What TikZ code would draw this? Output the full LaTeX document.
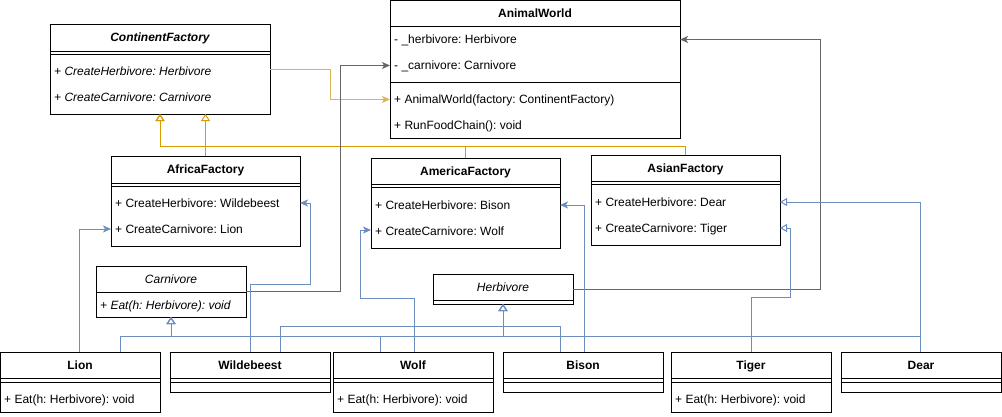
\documentclass[tikz,border=0pt]{standalone}
\usepackage{fontspec}
\setmainfont{Liberation Sans}
\usetikzlibrary{arrows.meta}
\definecolor{genc}{HTML}{D79B00}
\definecolor{assocc}{HTML}{D6B656}
\definecolor{grayc}{HTML}{666666}
\definecolor{bluec}{HTML}{6C8EBF}
\frenchspacing
\begin{document}
\begin{tikzpicture}[x=1pt,y=-1pt,
  umlbox/.style 2 args={draw=black,line width=1pt,fill=white,inner sep=0pt,outer sep=0pt,anchor=north west,minimum width=#1pt,minimum height=#2pt},
  sep/.style={line width=1pt,draw=black},
  ttl/.style={font=\fontsize{12}{14}\selectfont\bfseries,inner sep=0pt,text height=8.6pt,text depth=0pt},
  ittl/.style={font=\fontsize{12}{14}\selectfont\bfseries\itshape,inner sep=0pt,text height=8.6pt,text depth=0pt},
  ipl/.style={font=\fontsize{12}{14}\selectfont\itshape,inner sep=0pt,text height=8.6pt,text depth=0pt},
  mem/.style={font=\fontsize{12}{14}\selectfont,inner sep=0pt,anchor=west,text height=8.6pt,text depth=0pt},
  imem/.style={font=\fontsize{12}{14}\selectfont\itshape,inner sep=0pt,anchor=west,text height=8.6pt,text depth=0pt},
  gen/.style={draw=genc,line width=1pt,-{Triangle[open,length=7pt,width=9pt]}},
  assoc/.style={draw=assocc,line width=1pt,-{Stealth[length=8pt,width=7pt,inset=2pt]}},
  dep/.style={draw=grayc,line width=1pt,-{Stealth[length=8pt,width=7pt,inset=2pt]}},
  bgen/.style={draw=bluec,line width=1pt,-{Triangle[open,length=7pt,width=9pt]}},
  bdep/.style={draw=bluec,line width=1pt,-{Stealth[length=8pt,width=7pt,inset=2pt]}},
  bodep/.style={draw=bluec,line width=1pt,-{Triangle[open,length=7pt,width=8pt]}},
]
\useasboundingbox (0,0) rectangle (1002,416);

% ---- ContinentFactory
\node[umlbox={220}{90}] (cf) at (50,24) {};
\draw[sep] (50,51) -- (270,51);
\draw[sep] (50,54) -- (270,54);
\node[ittl] (cft) at (160,37.5) {ContinentFactory};
\node[imem] (cf1) at (54,71) {+ CreateHerbivore: Herbivore};
\node[imem] (cf2) at (54,97) {+ CreateCarnivore: Carnivore};

% ---- AnimalWorld
\node[umlbox={290}{137.5}] (aw) at (390,0.5) {};
\draw[sep] (390,26) -- (680,26);
\draw[sep] (390,82) -- (680,82);
\node[ttl] (awt) at (535,13) {AnimalWorld};
\node[mem] (aw1) at (394,39) {- \_herbivore: Herbivore};
\node[mem] (aw2) at (394,65) {- \_carnivore: Carnivore};
\node[mem] (aw3) at (394,99) {+ AnimalWorld(factory: ContinentFactory)};
\node[mem] (aw4) at (394,125) {+ RunFoodChain(): void};

% ---- AfricaFactory
\node[umlbox={189}{90}] (africa) at (111,156) {};
\draw[sep] (111,183) -- (300,183);
\draw[sep] (111,186) -- (300,186);
\node[ttl] (aft) at (205.5,169.5) {AfricaFactory};
\node[mem] (af1) at (115,203) {+ CreateHerbivore: Wildebeest};
\node[mem] (af2) at (115,229) {+ CreateCarnivore: Lion};

% ---- AmericaFactory
\node[umlbox={189}{90}] (america) at (371,158) {};
\draw[sep] (371,184) -- (560,184);
\draw[sep] (371,187) -- (560,187);
\node[ttl] (amt) at (465.5,171.5) {AmericaFactory};
\node[mem] (am1) at (375,205) {+ CreateHerbivore: Bison};
\node[mem] (am2) at (375,231) {+ CreateCarnivore: Wolf};

% ---- AsianFactory
\node[umlbox={189}{90}] (asian) at (591,155) {};
\draw[sep] (591,181) -- (780,181);
\draw[sep] (591,184.5) -- (780,184.5);
\node[ttl] (ast) at (685.5,168.5) {AsianFactory};
\node[mem] (as1) at (595,202) {+ CreateHerbivore: Dear};
\node[mem] (as2) at (595,228) {+ CreateCarnivore: Tiger};

% ---- Carnivore
\node[umlbox={150}{51}] (carn) at (96,266) {};
\draw[sep] (96,292) -- (246,292);
\node[ipl] (cat) at (171,279) {Carnivore};
\node[imem] (ca1) at (100,305) {+ Eat(h: Herbivore): void};

% ---- Herbivore
\node[umlbox={140}{30}] (herb) at (433,274) {};
\draw[sep] (433,300) -- (573,300);
\node[ipl] (het) at (503,287) {Herbivore};

% ---- bottom row
\node[umlbox={159.5}{60}] (lion) at (0.5,352) {};
\draw[sep] (0.5,378) -- (160,378);
\draw[sep] (0.5,382) -- (160,382);
\node[ttl] (lit) at (80,365) {Lion};
\node[mem] (li1) at (4,399) {+ Eat(h: Herbivore): void};

\node[umlbox={160}{40}] (wild) at (170,352) {};
\draw[sep] (170,378) -- (330,378);
\draw[sep] (170,382) -- (330,382);
\node[ttl] (wit) at (250,365) {Wildebeest};

\node[umlbox={160}{60}] (wolf) at (333,352) {};
\draw[sep] (333,378) -- (493,378);
\draw[sep] (333,382) -- (493,382);
\node[ttl] (wot) at (413,365) {Wolf};
\node[mem] (wo1) at (337,399) {+ Eat(h: Herbivore): void};

\node[umlbox={160}{40}] (bison) at (503,352) {};
\draw[sep] (503,378) -- (663,378);
\draw[sep] (503,382) -- (663,382);
\node[ttl] (bit) at (583,365) {Bison};

\node[umlbox={160}{60}] (tiger) at (671,352) {};
\draw[sep] (671,378) -- (831,378);
\draw[sep] (671,382) -- (831,382);
\node[ttl] (tit) at (751,365) {Tiger};
\node[mem] (ti1) at (675,399) {+ Eat(h: Herbivore): void};

\node[umlbox={160}{40}] (dear) at (841,352) {};
\draw[sep] (841,378) -- (1001,378);
\draw[sep] (841,382) -- (1001,382);
\node[ttl] (det) at (921,365) {Dear};

% ---- orange generalizations
\coordinate (cfA) at ([xshift=110pt]cf.south west);
\draw[gen] (africa.north) -- (africa.north |- cf.south);
\draw[gen] (america.north) |- ([yshift=-32pt]cfA) -- (cfA);
\draw[gen] (asian.north) |- ([yshift=-32pt]cfA) -- (cfA);

% ---- orange association
\draw[assoc] ([yshift=-45pt]cf.north east) -| ([xshift=-60pt,yshift=-99pt]aw.north west) -- ([yshift=-99pt]aw.north west);

% ---- gray dependencies
\draw[dep] ([yshift=-15pt]herb.north east) -| ([xshift=140pt,yshift=-39pt]aw.north east) -- ([yshift=-39pt]aw.north east);
\draw[dep] ([yshift=-25pt]carn.north east) -| ([xshift=-50pt,yshift=-65pt]aw.north west) -- ([yshift=-65pt]aw.north west);

% ---- blue generalizations
\draw[bgen] ([xshift=119.5pt]lion.north west) |- ([yshift=-19pt]carn.south) -- (carn.south);
\draw[bgen] ([xshift=47pt]wolf.north west) |- ([yshift=-19pt]carn.south) -- (carn.south);
\draw[bgen] (tiger.north) |- ([yshift=-19pt]carn.south) -- (carn.south);
\draw[bgen] ([xshift=110pt]wild.north west) |- ([yshift=-22pt]herb.south) -- (herb.south);
\draw[bgen] ([xshift=57pt]bison.north west) |- ([yshift=-22pt]herb.south) -- (herb.south);
\draw[bgen] ([xshift=79pt]dear.north west) |- ([yshift=-32pt]herb.south) -- (herb.south);

% ---- blue dependencies
\draw[bdep] ([xshift=-0.5pt]lion.north) |- ([yshift=-73pt]africa.north west);
\draw[bdep] (wild.north) |- ([xshift=10pt,yshift=-128pt]africa.north east) |- ([yshift=-47pt]africa.north east);
\draw[bdep] ([xshift=81pt]wolf.north west) |- ([xshift=-11pt,yshift=-140pt]america.north west) |- ([yshift=-72pt]america.north west);
\draw[bdep] ([xshift=81pt]bison.north west) |- ([yshift=-47pt]america.north east);
\draw[bodep] (tiger.north) |- ([xshift=10pt,yshift=-142pt]asian.north east) |- ([yshift=-73pt]asian.north east);
\draw[bodep] ([xshift=79pt]dear.north west) |- ([yshift=-47pt]asian.north east);
\end{tikzpicture}
\end{document}
